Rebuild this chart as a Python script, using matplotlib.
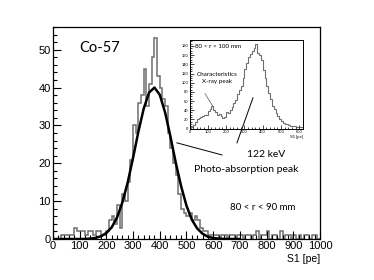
import numpy as np
import matplotlib
matplotlib.use("Agg")
import matplotlib.pyplot as plt
from matplotlib.lines import Line2D
from matplotlib.ticker import MultipleLocator

# ─── Data ───────────────────────────────────────────────────────────────────

# main histogram: 10 pe bins, 0..1000
main_edges = np.arange(0, 1010, 10)
main_counts = [
    0, 0, 0, 1, 1, 1, 1, 1, 3, 2,
    2, 2, 1, 2, 2, 1, 2, 2, 1, 1,
    2, 5, 6, 4, 9, 3, 12, 10, 15, 21,
    30, 28, 36, 38, 45, 35, 41, 48, 53, 43,
    40, 37, 35, 28, 24, 20, 17, 12, 8, 7,
    6, 7, 5, 6, 5, 3, 2, 2, 1, 1,
    1, 1, 0, 1, 1, 0, 1, 1, 0, 1,
    1, 0, 1, 1, 0, 1, 2, 0, 1, 1,
    2, 0, 1, 1, 0, 2, 0, 1, 1, 0,
    1, 0, 1, 0, 1, 1, 0, 1, 1, 0,
]

# fitted curve, sampled every 20 pe
fit_x = np.arange(0, 720, 20)
fit_y = [
    0, 0, 0, 0, 0, 0, 0.01, 0.12, 0.31, 0.73,
    1.6, 3.1, 5.7, 9.7, 15.0, 21.5, 28.4, 34.5, 38.7, 40.0,
    38.1, 33.4, 27.0, 20.1, 13.9, 8.8, 5.1, 2.8, 1.4, 0.6,
    0.26, 0.10, 0.03, 0.01, 0, 0,
]

# inset histogram (80 < r < 100 mm): 10 pe bins, 0..620
inset_edges = np.arange(0, 630, 10)
inset_counts = [
    2, 4, 8, 15, 20, 22, 26, 28, 30, 29,
    38, 42, 50, 40, 35, 30, 32, 28, 22, 25,
    35, 33, 40, 48, 55, 62, 75, 85, 92, 110,
    130, 142, 155, 162, 170, 175, 185, 165, 160, 150,
    128, 110, 92, 78, 64, 50, 42, 33, 27, 20,
    17, 13, 10, 9, 8, 6, 6, 5, 4, 4,
    3, 3,
]

HIST_COLOR = "#6e6e6e"
TEXT_FONT = ["Lato", "DejaVu Sans"]
TICK_FONT = ["Liberation Sans", "DejaVu Sans"]

plt.rcParams["font.family"] = TICK_FONT

fig = plt.figure(figsize=(3.74, 2.80), dpi=100)

# ─── Main panel ─────────────────────────────────────────────────────────────

ax = fig.add_axes([0.1417, 0.1464, 0.7139, 0.7572])
ax.stairs(main_counts, main_edges, color=HIST_COLOR, lw=1.1)
ax.plot(fit_x, fit_y, color="black", lw=1.8)

ax.set_xlim(0, 1000)
ax.set_ylim(0, 56)
ax.xaxis.set_major_locator(MultipleLocator(100))
ax.xaxis.set_minor_locator(MultipleLocator(20))
ax.yaxis.set_major_locator(MultipleLocator(10))
ax.yaxis.set_minor_locator(MultipleLocator(2))
ax.tick_params(which="both", direction="in", top=False, right=False,
               labelsize=8, pad=1.5)
ax.tick_params(which="major", length=6, width=0.8)
ax.tick_params(which="minor", length=3, width=0.8)
for sp in ax.spines.values():
    sp.set_linewidth(0.9)
ax.set_xlabel("S1 [pe]", loc="right", fontsize=7.5, labelpad=2)

ax.text(0.10, 0.90, "Co-57", transform=ax.transAxes, fontsize=10.5,
        family=TEXT_FONT, va="center")
ax.text(0.785, 0.15, "80 < r < 90 mm", transform=ax.transAxes,
        fontsize=7, family=TEXT_FONT, ha="center", va="center")
ax.text(0.80, 0.40, "122 keV", transform=ax.transAxes,
        fontsize=7.5, family=TEXT_FONT, ha="center", va="center")
ax.text(0.725, 0.33, "Photo-absorption peak", transform=ax.transAxes,
        fontsize=7.5, family=TEXT_FONT, ha="center", va="center")

# ─── Inset panel ────────────────────────────────────────────────────────────

ins = fig.add_axes([0.5067, 0.541, 0.3035, 0.316])
ins.set_facecolor("white")
ins.stairs(inset_counts, inset_edges, color=HIST_COLOR, lw=0.8)
ins.set_xlim(0, 620)
ins.set_ylim(0, 193)
ins.xaxis.set_major_locator(MultipleLocator(100))
ins.xaxis.set_minor_locator(MultipleLocator(20))
ins.yaxis.set_major_locator(MultipleLocator(20))
ins.yaxis.set_minor_locator(MultipleLocator(5))
ins.tick_params(which="both", direction="in", top=False, right=False,
                labelsize=3, pad=1, width=0.5)
ins.tick_params(which="major", length=3)
ins.tick_params(which="minor", length=1.5)
for sp in ins.spines.values():
    sp.set_linewidth(0.7)
ins.set_xlabel("S1 [pe]", loc="right", fontsize=3, labelpad=1)

ins.text(0.05, 0.93, "80 < r < 100 mm", transform=ins.transAxes,
         fontsize=4.5, family=TEXT_FONT, va="center")
ins.text(0.24, 0.57, "Characteristics\nX-ray peak", transform=ins.transAxes,
         fontsize=4.5, family=TEXT_FONT, ha="center", va="center",
         linespacing=1.3)
ins.plot([85, 128], [76, 48], color="#555555", lw=0.5)

# pointer lines from the "122 keV" label
fig.add_artist(Line2D([464, 633], [25.4, 22.2], transform=ax.transData,
                      color="black", lw=0.7, zorder=5))
fig.add_artist(Line2D([689, 749], [25.4, 37.3], transform=ax.transData,
                      color="black", lw=0.7, zorder=5))

fig.savefig("out.png", dpi=100)
